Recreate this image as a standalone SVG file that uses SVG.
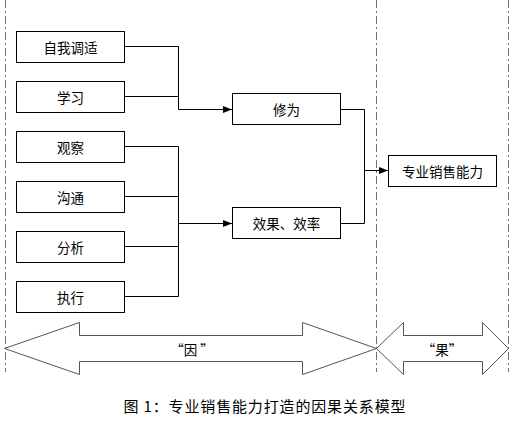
<svg xmlns="http://www.w3.org/2000/svg" width="523" height="439" viewBox="0 0 523 439">
<defs>
<style>
.box{fill:#fff;stroke:#000;stroke-width:1}
.lbl{font-family:"Noto Sans CJK SC","Liberation Sans",sans-serif;font-size:13.5px;fill:#000;text-anchor:middle;dominant-baseline:central}
.ln{fill:none;stroke:#000;stroke-width:1}
.dash{stroke:#707070;stroke-width:1;stroke-dasharray:8,3,2,3;fill:none}
.big{fill:#fff;stroke:#555;stroke-width:1}
</style>
<marker id="ah" markerWidth="9" markerHeight="8" refX="9" refY="4" orient="auto" markerUnits="userSpaceOnUse">
<path d="M0,0.5 L9,4 L0,7.5 Z" fill="#000"/>
</marker>
</defs>
<rect width="523" height="439" fill="#fff"/>
<g id="dividers">
<line class="dash" x1="5.5" y1="0" x2="5.5" y2="372"/>
<line class="dash" x1="376.5" y1="0" x2="376.5" y2="372"/>
<line class="dash" x1="508.5" y1="0" x2="508.5" y2="372"/>
</g>
<g id="connectors">
<polyline class="ln" points="124.5,46.5 178.5,46.5 178.5,109.5"/>
<line class="ln" x1="124.5" y1="96.5" x2="178.5" y2="96.5"/>
<line class="ln" x1="178.5" y1="109.5" x2="232" y2="109.5" marker-end="url(#ah)"/>
<polyline class="ln" points="124.5,146.5 178.5,146.5 178.5,296.5 124.5,296.5"/>
<line class="ln" x1="124.5" y1="196.5" x2="178.5" y2="196.5"/>
<line class="ln" x1="124.5" y1="246.5" x2="178.5" y2="246.5"/>
<line class="ln" x1="178.5" y1="223.5" x2="232" y2="223.5" marker-end="url(#ah)"/>
<polyline class="ln" points="340.5,109.5 364.5,109.5 364.5,223.5 340.5,223.5"/>
<line class="ln" x1="364.5" y1="170.5" x2="388" y2="170.5" marker-end="url(#ah)"/>
</g>
<g id="n1"><rect class="box" x="16.5" y="31.5" width="108" height="31"/><text class="lbl" x="70.5" y="47">自我调适</text></g>
<g id="n2"><rect class="box" x="16.5" y="81.5" width="108" height="31"/><text class="lbl" x="70.5" y="97">学习</text></g>
<g id="n3"><rect class="box" x="16.5" y="131.5" width="108" height="31"/><text class="lbl" x="70.5" y="147">观察</text></g>
<g id="n4"><rect class="box" x="16.5" y="181.5" width="108" height="31"/><text class="lbl" x="70.5" y="197">沟通</text></g>
<g id="n5"><rect class="box" x="16.5" y="231.5" width="108" height="31"/><text class="lbl" x="70.5" y="247">分析</text></g>
<g id="n6"><rect class="box" x="16.5" y="281.5" width="108" height="31"/><text class="lbl" x="70.5" y="297">执行</text></g>
<g id="n7"><rect class="box" x="232.5" y="93.5" width="108" height="31"/><text class="lbl" x="286.5" y="109">修为</text></g>
<g id="n8"><rect class="box" x="232.5" y="207.5" width="108" height="31"/><text class="lbl" x="286.5" y="223">效果、效率</text></g>
<g id="n9"><rect class="box" x="388.5" y="155.5" width="108" height="31"/><text class="lbl" x="442.5" y="171">专业销售能力</text></g>
<g id="cause">
<polygon class="big" points="4.5,348.5 79.5,322.5 79.5,335.5 302.5,335.5 302.5,322.5 376.5,348.5 302.5,374.5 302.5,361.5 79.5,361.5 79.5,374.5"/>
<text class="lbl" x="192" y="349">“因 ”</text>
</g>
<g id="effect">
<polygon class="big" points="376.5,348.5 403.5,322.5 403.5,335.5 482.5,335.5 482.5,322.5 508.5,348.5 482.5,374.5 482.5,361.5 403.5,361.5 403.5,374.5"/>
<text class="lbl" x="442" y="349">“果”</text>
</g>
<text x="123.5" y="412" font-family="Noto Sans CJK SC, Liberation Sans, sans-serif" font-size="15" textLength="282" lengthAdjust="spacing" fill="#000">图 1：专业销售能力打造的因果关系模型</text>
</svg>
